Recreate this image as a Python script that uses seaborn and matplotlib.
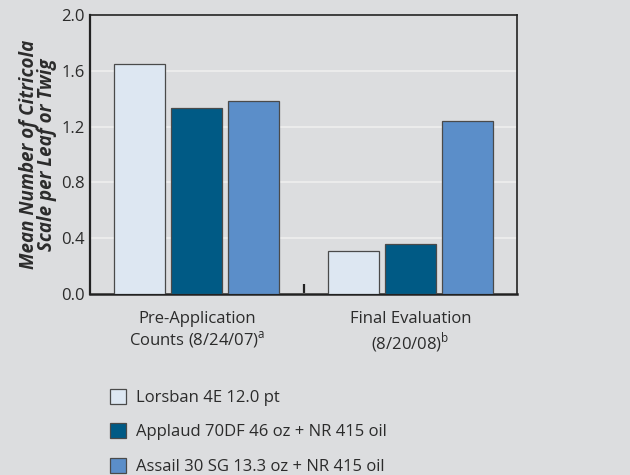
import matplotlib
matplotlib.use("Agg")
import matplotlib.pyplot as plt
import seaborn as sns
import pandas as pd
from matplotlib.ticker import FixedLocator

categories = ["Pre-Application\nCounts (8/24/07)$^{\\mathregular{a}}$",
              "Final Evaluation\n(8/20/08)$^{\\mathregular{b}}$"]
treatments = ["Lorsban 4E 12.0 pt",
              "Applaud 70DF 46 oz + NR 415 oil",
              "Assail 30 SG 13.3 oz + NR 415 oil"]
lorsban = [1.65, 0.31]
applaud = [1.33, 0.36]
assail = [1.38, 1.24]
yticks = [0.0, 0.4, 0.8, 1.2, 1.6, 2.0]

colors = ["#dde7f2", "#005a85", "#5b8ec9"]
bg = "#dcdddf"
txt = "#2b2b2b"

rows = []
for t, vals in zip(treatments, [lorsban, applaud, assail]):
    for c, v in zip(categories, vals):
        rows.append({"cat": c, "treat": t, "val": v})
df = pd.DataFrame(rows)

sns.set_style("white")
plt.rcParams["font.family"] = ["Open Sans", "DejaVu Sans"]
plt.rcParams["mathtext.fontset"] = "custom"
plt.rcParams["mathtext.rm"] = "Open Sans"

fig = plt.figure(figsize=(6.3, 4.75), dpi=100, facecolor=bg)
ax = fig.add_axes([90/630, 1-294/475, 427/630, (294-15)/475])
ax.set_facecolor(bg)

sns.barplot(data=df, x="cat", y="val", hue="treat", order=categories,
            hue_order=treatments, palette=colors, saturation=1, width=0.8, gap=0.1,
            edgecolor="#4a4a4a", linewidth=0.9, ax=ax, legend=True, zorder=3)

ax.set_ylim(0, 2.0)
ax.set_xlim(-0.5, 1.5)
ax.set_yticks(yticks)
ax.set_yticklabels([f"{v:.1f}" for v in yticks], fontsize=12, color=txt)
ax.yaxis.grid(True, color="#ebebeb", linewidth=1.5, zorder=0)
ax.set_axisbelow(True)
ax.tick_params(axis="y", length=0, pad=4)
ax.tick_params(axis="x", which="major", length=0, pad=12, labelsize=12, labelcolor=txt)
ax.xaxis.set_minor_locator(FixedLocator([0.5]))
ax.tick_params(axis="x", which="minor", bottom=True, direction="in", length=7,
               width=1.6, color="#222222")
ax.set_xlabel("")
ax.set_ylabel("Mean Number of Citricola\nScale per Leaf or Twig", fontsize=13.5,
              fontweight="bold", fontstyle="italic", color=txt, labelpad=3,
              linespacing=0.85)
for s in ax.spines.values():
    s.set_color("#222222")
    s.set_linewidth(1.2)
ax.spines["bottom"].set_linewidth(1.8)
ax.spines["left"].set_linewidth(1.6)

handles, labels = ax.get_legend_handles_labels()
ax.get_legend().remove()
fig.legend(handles, labels, loc="upper left", bbox_to_anchor=(103/630, 1-382/475),
           frameon=False, fontsize=12, labelcolor=txt, handlelength=1.0,
           handleheight=1.0, handletextpad=0.6, labelspacing=1.05,
           borderaxespad=0)

fig.savefig("out.png", dpi=100, facecolor=bg)
